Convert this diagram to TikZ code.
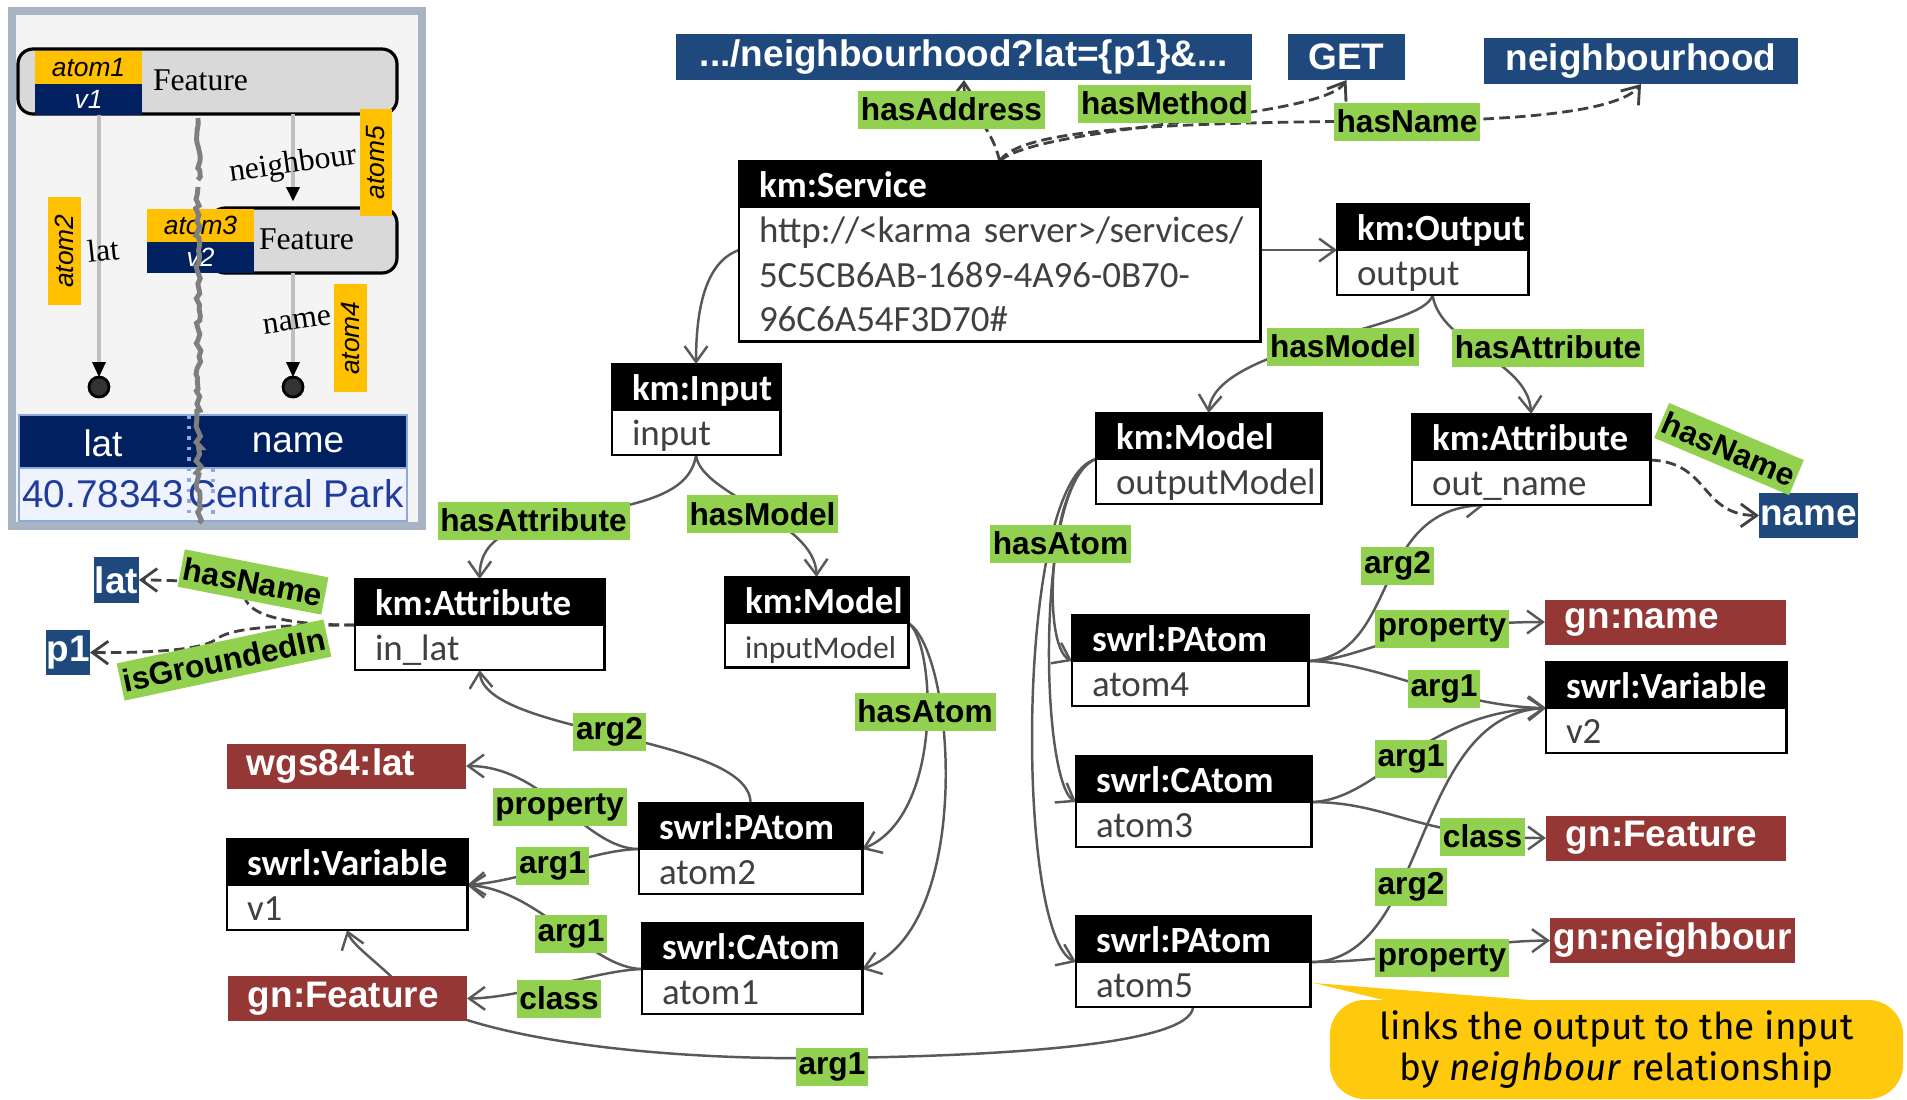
\documentclass[tikz,border=0pt]{standalone}
\usepackage{fontspec}
\setmainfont{Carlito}
\newfontfamily\arialfont{Liberation Sans}
\newfontfamily\timesfont{Liberation Serif}
\newfontfamily\notefont{Fira Sans}
\usetikzlibrary{arrows.meta,backgrounds,decorations.pathmorphing}

\definecolor{relgreen}{HTML}{92D050}
\definecolor{litblue}{HTML}{1F497D}
\definecolor{clsred}{HTML}{953735}
\definecolor{txtgray}{HTML}{404040}
\definecolor{edgegray}{HTML}{595959}
\definecolor{dashgray}{HTML}{404040}
\definecolor{navyblue}{HTML}{002060}
\definecolor{tagyellow}{HTML}{FFC000}
\definecolor{notefill}{HTML}{FFC90E}
\definecolor{featgray}{HTML}{D9D9D9}
\definecolor{insetbg}{HTML}{F4F4F4}
\definecolor{insetframe}{HTML}{A9B4C2}
\definecolor{tblline}{HTML}{8EA9DB}
\definecolor{tblbody}{HTML}{EEF3FD}
\definecolor{valblue}{HTML}{1F3C9C}
\definecolor{jaggray}{HTML}{7F7F7F}
\definecolor{lightline}{HTML}{BFBFBF}

\newcommand{\boxstrut}{\rule[-2.6pt]{0pt}{12.6pt}}

\begin{document}
\begin{tikzpicture}[x=0.01cm, y=-0.01cm, >={Straight Barb[length=4.5pt,width=6.5pt]}]
        \pgfmathsetseed{11}
        \tikzstyle{every node}=[outer sep=0pt]
        \tikzstyle{head}=[anchor=north west, fill=black, draw=black, line width=0.8pt, text=white, font=\fontsize{10.5}{12.6}\selectfont\bfseries, inner xsep=0.2cm, inner ysep=0pt, minimum height=0.46cm, align=left, execute at begin node=\boxstrut, execute at end node=\boxstrut]
        \tikzstyle{body}=[anchor=north west, fill=white, draw=black, line width=0.8pt, text=txtgray, font=\fontsize{10.5}{12.6}\selectfont, inner xsep=0.2cm, inner ysep=0pt, minimum height=0.45cm, align=left, execute at begin node=\boxstrut, execute at end node=\boxstrut]
        \tikzstyle{rel}=[fill=relgreen, text=black, font=\fontsize{9}{10}\selectfont\arialfont\bfseries, inner xsep=0.8pt, inner ysep=0pt, minimum height=0.38cm]
        \tikzstyle{lit}=[fill=litblue, text=white, font=\fontsize{10.5}{12}\selectfont\arialfont\bfseries, inner sep=0pt, minimum height=0.46cm]
        \tikzstyle{cls}=[fill=clsred, text=white, font=\fontsize{10.5}{12}\selectfont\arialfont\bfseries, inner xsep=0.2cm, inner ysep=0pt, minimum height=0.45cm, align=left]
        \tikzstyle{tag}=[fill=tagyellow, text=black, font=\fontsize{7.5}{8}\selectfont\arialfont\itshape, inner sep=0pt, minimum width=1.07cm, minimum height=0.33cm]
        \tikzstyle{vartag}=[fill=navyblue, text=white, font=\fontsize{7.5}{8}\selectfont\arialfont\itshape, inner sep=0pt, minimum width=1.07cm, minimum height=0.31cm]
        \tikzstyle{serif}=[font=\fontsize{9}{10}\selectfont\timesfont, inner sep=0pt]
        \tikzstyle{edgeline}=[->, draw=edgegray, line width=0.7pt]
        \tikzstyle{dashline}=[->, draw=dashgray, line width=0.8pt, dash pattern=on 3pt off 1.5pt]

        \useasboundingbox (0,0) rectangle (1907,1099);

        % screenshot of the mapping
        \draw[draw=insetframe, line width=2.5pt, fill=insetbg] (12,11) rectangle (422,526);
        \draw[fill=featgray, line width=0.9pt, rounded corners=0.15cm] (18,49) rectangle (397,114);
        \draw[fill=featgray, line width=0.9pt, rounded corners=0.15cm] (210,208) rectangle (397,273);
        \draw[lightline, line width=1.2pt] (99,114) -- (99,362);
        \draw[lightline, line width=1.2pt] (293,114) -- (293,188);
        \draw[lightline, line width=1.2pt] (293,273) -- (293,362);
        \fill (286,187) -- (300,187) -- (293,201) -- cycle;
        \fill (92,362) -- (106,362) -- (99,377) -- cycle;
        \fill (286,362) -- (300,362) -- (293,377) -- cycle;
        \draw[fill=black!80, line width=0.8pt] (99,387) circle (0.1cm);
        \draw[fill=black!80, line width=0.8pt] (293,387) circle (0.1cm);
        \node (tag1)  [tag] at (88.5,67.5) {atom1};
        \node (tagv1) [vartag] at (88.5,99.5) {v1};
        \node (tag3)  [tag] at (200.5,225.5) {atom3};
        \node (tagv2) [vartag] at (200.5,257.5) {v2};
        \node (tag5)  [tag, rotate=90, minimum height=0.32cm] at (376,162.5) {atom5};
        \node (tag2)  [tag, rotate=90] at (64.5,251) {atom2};
        \node (tag4)  [tag, rotate=90] at (350.5,338) {atom4};
        \node (feat1) [serif, anchor=west] at (153,80) {Feature};
        \node (feat2) [serif, anchor=west] at (259,239) {Feature};
        \node (nbtxt) [serif, rotate=8] at (293,165) {neighbour};
        \node (lattxt) [serif, rotate=6] at (103,250) {lat};
        \node (nmtxt) [serif, rotate=8] at (297,322) {name};
        \draw[fill=navyblue, draw=tblline, line width=0.8pt] (19,415) rectangle (407,468);
        \draw[fill=tblbody, draw=tblline, line width=0.8pt] (19,468) rectangle (407,521);
        \draw[tblline, dotted, line width=1pt] (189,415) -- (189,521);
        \draw[tblline, dotted, line width=1pt] (213,468) -- (213,521);
        \node (thlat)  [text=white, font=\fontsize{10.5}{12}\selectfont\arialfont] at (103,443) {lat};
        \node (thname) [text=white, font=\fontsize{10.5}{12}\selectfont\arialfont] at (298,443) {name};
        \node (tdlat)  [text=valblue, font=\fontsize{11}{12}\selectfont\arialfont] at (103,494) {40.78343};
        \node (tdname) [text=valblue, font=\fontsize{11}{12}\selectfont\arialfont] at (296,494) {Central Park};
        \draw[jaggray, line width=1.4pt, decorate, decoration={random steps, segment length=1.5pt, amplitude=0.8pt}] (198,118) -- (198,180);
        \draw[jaggray, line width=1.4pt, decorate, decoration={random steps, segment length=1.5pt, amplitude=0.8pt}] (198,187) -- (199,523);

        % service description
        \node (svc)    [head, text width=4.81cm] at (739,161) {km:Service};
        \node (svcb)   [body, text width=4.81cm, minimum height=1.34cm] at (svc.south west) {\mbox{http://<karma server>/services/}\\5C5CB6AB-1689-4A96-0B70-\\96C6A54F3D70\#};
        \node (out)    [head, text width=1.51cm] at (1337,204) {km:Output};
        \node (outb)   [body, text width=1.51cm] at (out.south west) {output};
        \node (inp)    [head, text width=1.28cm] at (612,364) {km:Input};
        \node (inpb)   [body, text width=1.28cm] at (inp.south west) {input};
        \node (attin)  [head, text width=2.09cm] at (355,579) {km:Attribute};
        \node (attinb) [body, text width=2.09cm] at (attin.south west) {in\_lat};
        \node (mdlin)  [head, text width=1.43cm] at (725,577) {km:Model};
        \node (mdlinb) [body, text width=1.43cm, minimum height=0.39cm, font=\fontsize{9}{10.8}\selectfont, execute at begin node={\rule[-2.2pt]{0pt}{10.8pt}}, execute at end node={}] at (mdlin.south west) {inputModel};
        \node (mdlout) [head, text width=1.85cm] at (1096,413) {km:Model};
        \node (mdloutb) [body, text width=1.85cm] at (mdlout.south west) {outputModel};
        \node (att)    [head, text width=1.98cm] at (1412,414) {km:Attribute};
        \node (attb)   [body, text width=1.98cm] at (att.south west) {out\_name};
        \node (atom4)  [head, text width=1.96cm] at (1072,615) {swrl:PAtom};
        \node (atom4b) [body, text width=1.96cm] at (atom4.south west) {atom4};
        \node (atom3)  [head, text width=1.95cm] at (1076,756) {swrl:CAtom};
        \node (atom3b) [body, text width=1.95cm] at (atom3.south west) {atom3};
        \node (atom5)  [head, text width=1.94cm] at (1076,916) {swrl:PAtom};
        \node (atom5b) [body, text width=1.94cm] at (atom5.south west) {atom5};
        \node (atom2)  [head, text width=1.83cm] at (639,803) {swrl:PAtom};
        \node (atom2b) [body, text width=1.83cm] at (atom2.south west) {atom2};
        \node (atom1)  [head, text width=1.80cm] at (642,923) {swrl:CAtom};
        \node (atom1b) [body, text width=1.80cm] at (atom1.south west) {atom1};
        \node (var1)   [head, text width=2.00cm] at (227,839) {swrl:Variable};
        \node (var1b)  [body, text width=2.00cm] at (var1.south west) {v1};
        \node (var2)   [head, text width=2.00cm] at (1546,662) {swrl:Variable};
        \node (var2b)  [body, text width=2.00cm] at (var2.south west) {v2};

        % literals and classes
        \node (url)  [lit, minimum width=5.76cm] at (964,57) {.../neighbourhood?lat=\{p1\}\&...};
        \node (get)  [lit, minimum width=1.17cm] at (1346.5,57) {GET};
        \node (nbh)  [lit, minimum width=3.14cm] at (1641,61) {neighbourhood};
        \node (name) [lit, minimum width=0.99cm, minimum height=0.45cm] at (1808.5,515.5) {name};
        \node (lat)  [lit, minimum width=0.45cm] at (116.5,580) {lat};
        \node (p1)   [lit, minimum width=0.44cm, minimum height=0.45cm] at (68,652.5) {p1};
        \node (wgs)     [cls, text width=1.99cm] at (346.5,766) {wgs84:lat};
        \node (gnfeatl) [cls, text width=1.99cm] at (347.5,998.5) {gn:Feature};
        \node (gnname)  [cls, text width=2.01cm] at (1665.5,622) {gn:name};
        \node (gnfeatr) [cls, text width=2.00cm] at (1666,838) {gn:Feature};
        \node (gnnb)    [cls, text width=2.41cm, inner xsep=0.02cm, align=center] at (1672.5,940.5) {gn:neighbour};

        % property labels
        \node (hasaddr) [rel] at (951.5,109.5) {hasAddress};
        \node (hasmeth) [rel] at (1164.5,103.5) {hasMethod};
        \node (hasnm1)  [rel] at (1407,121.5) {hasName};
        \node (hasmdl2) [rel] at (1343,346.5) {hasModel};
        \node (hasatt2) [rel] at (1548,347.5) {hasAttribute};
        \node (hasatt1) [rel] at (533.5,520.5) {hasAttribute};
        \node (hasmdl1) [rel] at (762.5,514) {hasModel};
        \node (hasatm2) [rel] at (1060.5,543.5) {hasAtom};
        \node (hasatm1) [rel] at (925,711.5) {hasAtom};
        \node (a4arg2)  [rel] at (1397.5,566) {arg2};
        \node (a4prop)  [rel] at (1442,628.5) {property};
        \node (a4arg1)  [rel] at (1444,688.5) {arg1};
        \node (a3arg1)  [rel] at (1411,759) {arg1};
        \node (a3cls)   [rel] at (1482.5,836.5) {class};
        \node (a5arg2)  [rel] at (1411,886.5) {arg2};
        \node (a5prop)  [rel] at (1442,958) {property};
        \node (a2arg2)  [rel] at (609.5,731.5) {arg2};
        \node (a2prop)  [rel] at (559.5,807) {property};
        \node (a2arg1)  [rel] at (552.5,866) {arg1};
        \node (a1arg1)  [rel] at (571,933.5) {arg1};
        \node (a1cls)   [rel] at (559,998.5) {class};
        \node (a5arg1)  [rel] at (832,1067) {arg1};
        \node (hasnm2)  [rel, rotate=-11] at (253,582) {hasName};
        \node (grnd)    [rel, rotate=12] at (224,660) {isGroundedIn};
        \node (hasnm3)  [rel, rotate=-23] at (1729,449) {hasName};

        % note
        \fill[notefill] (1314,983) -- (1396,1003) -- (1568,1003) -- cycle;
        \node (note) [fill=notefill, rounded corners=0.35cm, minimum width=5.73cm, minimum height=0.99cm, inner sep=0pt, align=center, font=\fontsize{10.5}{11.8}\selectfont\notefont] at (1616.5,1049.5) {links the output to the input\\by \textit{neighbour} relationship};

        \begin{scope}[on background layer]
            \draw[dashline] (svc.north) .. controls (990,120) and (963,110) .. (url.south);
            \draw[dashline] (svc.north) .. controls (1040,125) and (1320,120) .. (get.south);
            \draw[dashline] (svc.north) .. controls (1020,130) and (1150,122) .. (1407,121) .. controls (1530,120) and (1620,110) .. (nbh.south);
            \draw[edgeline] (out.south west -| svcb.east) -- (out.south west);
            \draw[edgeline] ([yshift=-0.43cm]svcb.north west) .. controls (705,262) and (696,310) .. (inp.north);
            \draw[edgeline] (inpb.south) .. controls (690,495) and (640,505) .. (560,518) .. controls (500,528) and (480,545) .. (attin.north);
            \draw[edgeline] (inpb.south) .. controls (700,495) and (815,520) .. (mdlin.north);
            \draw[edgeline] (outb.south) .. controls (1425,330) and (1215,345) .. (mdlout.north);
            \draw[edgeline] (outb.south) .. controls (1440,345) and (1528,360) .. (att.north);
            \draw[dashline] (att.south east) .. controls (1710,462) and (1700,515) .. (name.west);
            \draw[edgeline] (mdlin.south east) .. controls (935,640) and (945,815) .. (atom2.south east);
            \draw[edgeline] (mdlin.south east) .. controls (955,650) and (975,930) .. (atom1.south east);
            \draw[edgeline] (mdlout.south west) .. controls (1050,475) and (1040,645) .. (atom4.south west);
            \draw[edgeline] (mdlout.south west) .. controls (1035,480) and (1040,780) .. (atom3.south west);
            \draw[edgeline] (mdlout.south west) .. controls (1015,480) and (1015,935) .. (atom5.south west);
            \draw[edgeline] (atom2.south west) .. controls (585,849) and (545,766) .. (wgs.east);
            \draw[edgeline] (atom2.south west) .. controls (590,850) and (530,880) .. (var1.south east);
            \draw[edgeline] (atom1.south west) .. controls (590,968) and (540,890) .. (var1.south east);
            \draw[edgeline] (atom1.south west) .. controls (600,970) and (520,998) .. (gnfeatl.east);
            \draw[edgeline] (atom2.north) .. controls (750,735) and (485,735) .. (attinb.south);
            \draw[edgeline] (atom4.south east) .. controls (1360,661) and (1400,622) .. (gnname.west);
            \draw[edgeline] (atom4.south east) .. controls (1380,662) and (1450,706) .. (var2.south west);
            \draw[edgeline] (atom4.south east) .. controls (1400,655) and (1370,510) .. ([xshift=-0.47cm]attb.south);
            \draw[edgeline] (atom3.south east) .. controls (1380,800) and (1420,712) .. (var2.south west);
            \draw[edgeline] (atom3.south east) .. controls (1390,802) and (1420,838) .. (gnfeatr.west);
            \draw[edgeline] (atom5.south east) .. controls (1430,962) and (1410,715) .. (var2.south west);
            \draw[edgeline] (atom5.south east) .. controls (1400,962) and (1470,941) .. (gnnb.west);
            \draw[edgeline] (atom5b.south) .. controls (1190,1045) and (1000,1056) .. (832,1058) .. controls (620,1061) and (440,1030) .. (400,985) .. controls (375,960) and (352,945) .. (var1b.south);
            \draw[dashline] (attin.south west) .. controls (285,625) and (250,615) .. (245,598) .. controls (240,584) and (190,580) .. (lat.east);
            \draw[dashline] (attin.south west) .. controls (270,625) and (230,628) .. (215,640) .. controls (200,650) and (150,653) .. (p1.east);
        \end{scope}
\end{tikzpicture}
\end{document}
